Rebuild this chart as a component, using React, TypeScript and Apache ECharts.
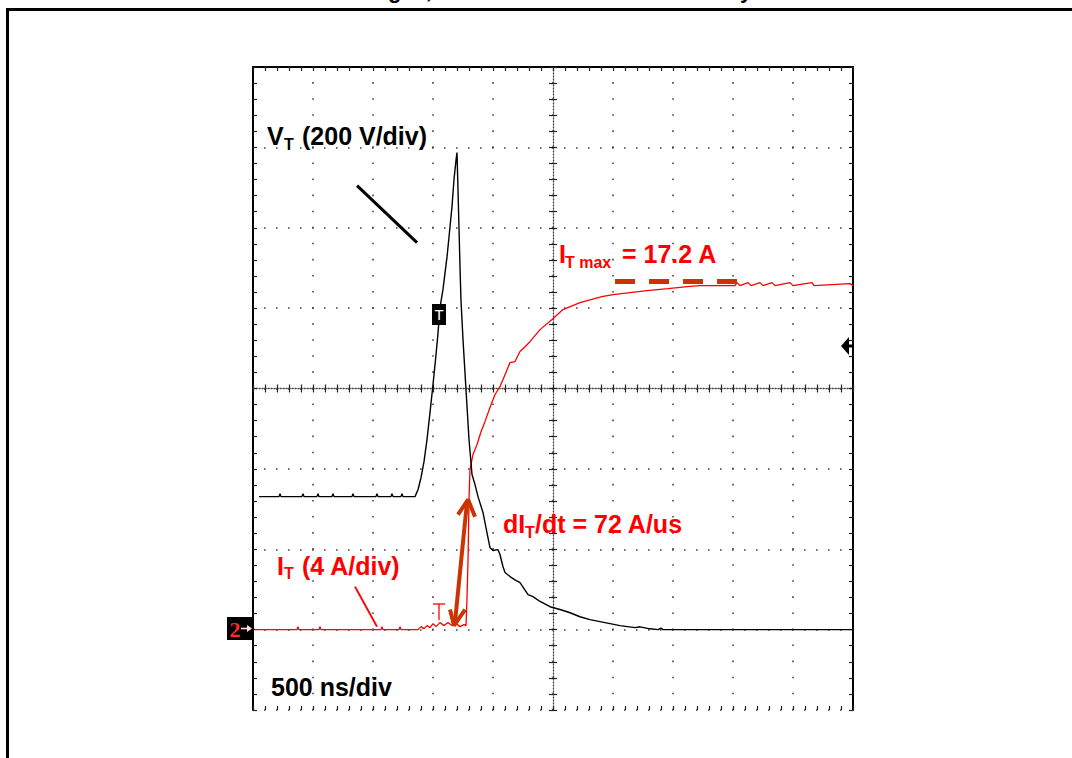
import React, { useEffect, useRef } from "react";
import * as echarts from "echarts";

// Voltage trace V_T (ns, V) – 200 V/div
const vTime = [50, 217, 225, 233, 408, 417, 425, 533, 542, 550, 658, 667, 675, 825, 833, 842, 1025, 1033, 1042, 1150, 1158, 1167, 1233, 1242, 1250,
  1350, 1375, 1400, 1425, 1450, 1475, 1500, 1525, 1542, 1558, 1583, 1617, 1642, 1658, 1675, 1692, 1700,
  1712, 1725, 1733, 1750, 1775, 1800, 1825, 1850, 1875, 1917, 1950, 1975, 2000, 2042, 2058, 2083, 2100,
  2142, 2183, 2225, 2292, 2333, 2392, 2475, 2558, 2642, 2725, 2808, 2892, 2975, 3058, 3183, 3225, 3308, 3375, 3400, 3417, 5000];
const vVolt = [331, 331, 338, 331, 331, 338, 331, 331, 338, 331, 331, 338, 331, 331, 338, 331, 331, 338, 331, 331, 338, 331, 331, 338, 331,
  331, 348, 378, 418, 473, 540, 610, 684, 739, 801, 846, 928, 1003, 1052, 1120, 1169, 1187,
  1052, 903, 821, 722, 597, 473, 386, 361, 331, 291, 241, 204, 197, 199, 187, 157, 142,
  132, 124, 117, 87, 82, 70, 57, 50, 42, 32, 25, 20, 15, 10, 5, 7, 2, 0, 4, 0, 0];

// Current trace I_T (ns, A) – 4 A/div
const iTime = [17, 367, 375, 383, 550, 558, 567, 1067, 1075, 1083, 1217, 1225, 1233,
  1350, 1375, 1400, 1425, 1450, 1475, 1500, 1525, 1558, 1592, 1625, 1658, 1692, 1725, 1758, 1775,
  1783, 1792, 1800, 1808, 1833, 1867, 1900, 1933, 1975, 2017, 2058, 2100, 2142, 2183, 2225, 2267, 2308,
  2392, 2492, 2583, 2725, 2908, 3000, 3142, 3283, 3458, 3617, 3725,
  4017, 4033, 4058, 4125, 4150, 4225, 4250, 4325, 4350, 4475, 4500, 4658, 4675, 4975, 5000];
const iAmp = [0, 0, 0.15, 0, 0, 0.15, 0, 0, 0.15, 0, 0, 0.15, 0,
  0, 0, 0.15, 0.05, 0.2, 0.1, 0.3, 0.15, 0.35, 0.2, 0.35, 0.2, 0.3, 0.15, 0.25, 0.2,
  1.49, 3.48, 6.47, 7.96, 8.71, 9.21, 9.85, 10.35, 11.05, 11.7, 12.09, 12.69, 13.29, 13.34, 13.84, 14.08, 14.33,
  14.93, 15.43, 15.93, 16.27, 16.57, 16.67, 16.77, 16.87, 16.97, 17.07, 17.12,
  17.12, 17.27, 17.12, 17.27, 17.12, 17.27, 17.12, 17.27, 17.12, 17.27, 17.12, 17.27, 17.12, 17.22, 17.12];

// Annotations (ns, A / V)
const itMaxTime = [3017, 4033];
const itMaxAmp = 17.32;
const shaftTime = [1783, 1683];
const shaftAmp = [6.32, 0.35];
const headTopTime = [1708, 1792, 1850];
const headTopAmp = [5.72, 6.47, 5.62];
const headBotTime = [1642, 1675, 1767];
const headBotAmp = [1.0, 0.2, 1.0];
const vPointerTime = [867, 1367];
const vPointerVolt = [1105, 963];
const iPointerTime = [850, 1033];
const iPointerAmp = [2.14, 0.15];

const zip = (a: number[], b: number[]) => a.map((x, i) => [x, b[i]]);

const FONT = '"Liberation Sans", Arial, sans-serif';
const RED = "#ff0000";
const DARK = "#cc3300";

const txt = (text: string, x: number, baseline: number, size: number, fill: string, align = "left") => ({
  type: "text",
  x,
  y: baseline - 0.3465 * size,
  z: 100,
  style: {
    text,
    fill,
    font: `bold ${size}px ${FONT}`,
    align,
    verticalAlign: "middle",
    textAlign: align,
    textVerticalAlign: "middle",
  },
});

export default function App() {
  const ref = useRef<HTMLDivElement>(null);
  useEffect(() => {
    const chart = echarts.init(ref.current!, null, { renderer: "svg" });
    const tickStyle = { color: "#222", width: 1.2 };
    const timeBase = {
      type: "value",
      min: 0,
      max: 5000,
      interval: 500,
      axisLabel: { show: false },
      splitLine: { show: false },
      axisTick: { show: false },
      minorTick: { show: false },
      axisLine: { show: false, onZero: false },
    };
    const divBase = {
      type: "value",
      min: -4,
      max: 4,
      interval: 1,
      axisLabel: { show: false },
      splitLine: { show: false },
      axisTick: { show: false },
      minorTick: { show: false },
      axisLine: { show: false, onZero: false },
    };
    const centerLine = { color: "#444", width: 1.3, type: [1.2, 1.8] };
    const option: any = {
      animation: false,
      backgroundColor: "#fff",
      grid: { left: 253, top: 67, width: 600, height: 643, containLabel: false },
      xAxis: [
        {
          ...timeBase,
          position: "bottom",
          axisTick: { show: true, inside: true, length: 4, lineStyle: tickStyle },
          minorTick: { show: true, splitNumber: 5, length: 4, lineStyle: tickStyle },
          splitLine: { show: true, lineStyle: { color: "#444", width: 1.6, type: [1.6, 14.47], dashOffset: 0.8 } },
        },
        {
          ...timeBase,
          position: "top",
          axisLine: { show: true, onZero: false, lineStyle: { color: "#000", width: 2 } },
          axisTick: { show: true, inside: true, length: 4, lineStyle: tickStyle },
          minorTick: { show: true, splitNumber: 5, length: 4, lineStyle: tickStyle },
        },
        {
          ...timeBase,
          position: "bottom",
          axisLine: { show: true, onZero: true, onZeroAxisIndex: 2, lineStyle: centerLine },
          axisTick: { show: true, inside: true, length: 4, lineStyle: tickStyle },
          minorTick: { show: true, splitNumber: 5, length: 4, lineStyle: tickStyle },
        },
        {
          ...timeBase,
          position: "bottom",
          axisLine: { show: false, onZero: true, onZeroAxisIndex: 2 },
          axisTick: { show: true, inside: false, length: 4, lineStyle: tickStyle },
          minorTick: { show: true, splitNumber: 5, length: 4, lineStyle: tickStyle },
        },
        { type: "value", min: -5, max: 5, interval: 1, show: false },
      ],
      yAxis: [
        { type: "value", min: -200, max: 1400, interval: 200, show: false },
        { type: "value", min: -4, max: 28, interval: 4, show: false },
        {
          ...divBase,
          position: "left",
          axisLine: { show: true, onZero: false, lineStyle: { color: "#000", width: 2 } },
          axisTick: { show: true, inside: true, length: 4, lineStyle: tickStyle },
          minorTick: { show: true, splitNumber: 5, length: 4, lineStyle: tickStyle },
          splitLine: { show: true, lineStyle: { color: "#444", width: 1.6, type: [1.6, 10.4], dashOffset: 0.8 } },
        },
        {
          ...divBase,
          position: "right",
          axisLine: { show: true, onZero: false, lineStyle: { color: "#000", width: 2 } },
          axisTick: { show: true, inside: true, length: 4, lineStyle: tickStyle },
          minorTick: { show: true, splitNumber: 5, length: 4, lineStyle: tickStyle },
        },
        {
          ...divBase,
          position: "left",
          axisLine: { show: true, onZero: true, onZeroAxisIndex: 4, lineStyle: centerLine },
          axisTick: { show: true, inside: true, length: 4, lineStyle: tickStyle },
          minorTick: { show: true, splitNumber: 5, length: 4, lineStyle: tickStyle },
        },
        {
          ...divBase,
          position: "left",
          axisLine: { show: false, onZero: true, onZeroAxisIndex: 4 },
          axisTick: { show: true, inside: false, length: 4, lineStyle: tickStyle },
          minorTick: { show: true, splitNumber: 5, length: 4, lineStyle: tickStyle },
        },
      ],
      series: [
        {
          name: "I_T",
          type: "line",
          xAxisIndex: 0,
          yAxisIndex: 1,
          data: zip(iTime, iAmp),
          symbol: "none",
          lineStyle: { color: RED, width: 1.3 },
          z: 3,
          markLine: {
            silent: true,
            symbol: "none",
            label: { show: false },
            lineStyle: { color: DARK, width: 5, type: [20, 14] },
            data: [[{ coord: [itMaxTime[0], itMaxAmp] }, { coord: [itMaxTime[1], itMaxAmp] }]],
          },
        },
        {
          name: "V_T",
          type: "line",
          xAxisIndex: 0,
          yAxisIndex: 0,
          data: zip(vTime, vVolt),
          symbol: "none",
          lineStyle: { color: "#000", width: 1.4 },
          z: 4,
        },
        {
          type: "line", xAxisIndex: 0, yAxisIndex: 0, data: zip(vPointerTime, vPointerVolt), symbol: "none",
          lineStyle: { color: "#000", width: 3 }, z: 5,
        },
        {
          type: "line", xAxisIndex: 0, yAxisIndex: 1, data: zip(iPointerTime, iPointerAmp), symbol: "none",
          lineStyle: { color: RED, width: 2 }, z: 5,
        },
        {
          type: "line", xAxisIndex: 0, yAxisIndex: 1, data: zip(shaftTime, shaftAmp), symbol: "none",
          lineStyle: { color: DARK, width: 4 }, z: 6,
        },
        {
          type: "line", xAxisIndex: 0, yAxisIndex: 1, data: zip(headTopTime, headTopAmp), symbol: "none",
          lineStyle: { color: DARK, width: 4 }, z: 6,
        },
        {
          type: "line", xAxisIndex: 0, yAxisIndex: 1, data: zip(headBotTime, headBotAmp), symbol: "none",
          lineStyle: { color: DARK, width: 4 }, z: 6,
        },
      ],
      graphic: [
        { type: "rect", z: 0, shape: { x: 7.5, y: 9.5, width: 1100, height: 800 }, style: { fill: "none", stroke: "#000", lineWidth: 3 } },
        {
          type: "text", x: 262, y: -10, z: 100,
          style: { text: "Anode voltages, current and dI/dt at turn-on by breakover", fill: "#000", font: `bold 22px ${FONT}`, align: "left", verticalAlign: "middle", textAlign: "left", textVerticalAlign: "middle" },
        },
        txt("V", 267, 145, 25, "#000"),
        txt("T", 284, 150, 16, "#000"),
        txt("(200 V/div)", 302, 145, 25, "#000"),
        txt("I", 559, 263, 25, RED),
        txt("T max", 565, 268, 16, RED),
        txt("= 17.2 A", 622, 263, 25, RED),
        txt("dI", 503, 533, 25, RED),
        txt("T", 525, 538, 16, RED),
        txt("/dt = 72 A/us", 535, 533, 25, RED),
        txt("I", 277, 575, 25, RED),
        txt("T", 284, 579, 16, RED),
        txt("(4 A/div)", 302, 575, 25, RED),
        txt("500 ns/div", 271, 696, 25, "#000"),
        // trigger marker box
        { type: "rect", z: 100, shape: { x: 432, y: 304, width: 14, height: 21 }, style: { fill: "#000" } },
        {
          type: "text", x: 439, y: 314.5, z: 101,
          style: { text: "T", fill: "#fff", font: `15px ${FONT}`, align: "center", verticalAlign: "middle", textAlign: "center", textVerticalAlign: "middle" },
        },
        // red trigger level marker
        { type: "polyline", z: 100, shape: { points: [[433, 604], [445, 604]] }, style: { stroke: RED, lineWidth: 1.3, fill: "none" } },
        { type: "polyline", z: 100, shape: { points: [[439, 604], [439, 620]] }, style: { stroke: RED, lineWidth: 1.3, fill: "none" } },
        // right edge level arrow
        { type: "polygon", z: 100, shape: { points: [[841, 346], [849, 337], [849, 355]] }, style: { fill: "#000" } },
        { type: "rect", z: 100, shape: { x: 848, y: 344.5, width: 5, height: 3 }, style: { fill: "#000" } },
        // channel 2 marker
        { type: "rect", z: 100, shape: { x: 227, y: 617, width: 26, height: 23 }, style: { fill: "#000" } },
        {
          type: "text", x: 235, y: 629, z: 101,
          style: { text: "2", fill: "#ff2a2a", font: `bold 22px "Liberation Serif", serif`, align: "center", verticalAlign: "middle", textAlign: "center", textVerticalAlign: "middle" },
        },
        { type: "polyline", z: 101, shape: { points: [[241, 628.5], [248, 628.5]] }, style: { stroke: "#ffdede", lineWidth: 1.6, fill: "none" } },
        { type: "polygon", z: 101, shape: { points: [[252, 628.5], [247, 625], [247, 632]] }, style: { fill: "#ffdede" } },
      ],
    };
    chart.setOption(option);
    return () => chart.dispose();
  }, []);
  return (
    <div
      ref={ref}
      style={{ position: "fixed", left: 0, top: 0, width: 1072, height: 758, background: "#fff" }}
    />
  );
}
